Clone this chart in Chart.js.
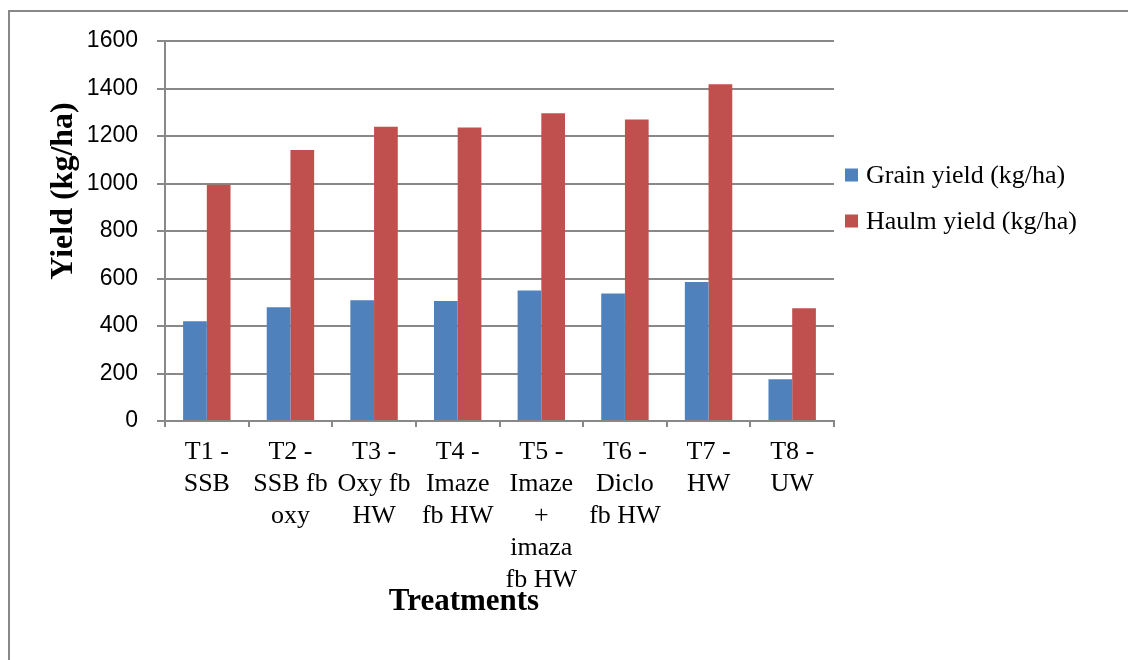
<!DOCTYPE html>
<html>
<head>
<meta charset="utf-8">
<title>Yield by treatment</title>
<script src="https://cdn.jsdelivr.net/npm/chart.js"></script>
<style>
  html, body { margin: 0; padding: 0; background: #ffffff; }
  #wrap { width: 1128px; height: 660px; }
</style>
</head>
<body>
<div id="wrap"><canvas id="yieldChart" width="1128" height="660"></canvas></div>
<script>
// Treatment labels, one entry per line of the wrapped axis label
const treatments = [
  ["T1 -", "SSB"],
  ["T2 -", "SSB fb", "oxy"],
  ["T3 -", "Oxy fb", "HW"],
  ["T4 -", "Imaze", "fb HW"],
  ["T5 -", "Imaze", "+", "imaza", "fb HW"],
  ["T6 -", "Diclo", "fb HW"],
  ["T7 -", "HW"],
  ["T8 -", "UW"]
];

// Yields in kg/ha
const grainYield = [420, 479, 508, 505, 550, 537, 585, 176];
const haulmYield = [995, 1141, 1239, 1236, 1296, 1269, 1418, 475];

const seriesNames = ["Grain yield (kg/ha)", "Haulm yield (kg/ha)"];
const seriesColors = ["#4F81BD", "#C0504D"];

// Value axis
const yMin = 0;
const yMax = 1600;
const yStep = 200;

const yTitle = "Yield (kg/ha)";
const xTitle = "Treatments";

const axisGray = "#888888";
const serif = "'Liberation Serif', 'Times New Roman', serif";
const sans = "'Liberation Sans', Arial, sans-serif";

// Chart frame, axis titles and the legend block on the right
const decorations = {
  id: 'decorations',
  beforeDraw(chart) {
    const ctx = chart.ctx;
    ctx.save();
    ctx.fillStyle = '#ffffff';
    ctx.fillRect(0, 0, chart.width, chart.height);
    ctx.restore();
  },
  afterDraw(chart) {
    const ctx = chart.ctx;
    const area = chart.chartArea;
    ctx.save();

    // outer frame (left and top edges)
    ctx.strokeStyle = axisGray;
    ctx.lineWidth = 2;
    ctx.beginPath();
    ctx.moveTo(9, chart.height);
    ctx.lineTo(9, 11);
    ctx.lineTo(chart.width, 11);
    ctx.stroke();

    // value axis title
    ctx.fillStyle = '#000000';
    ctx.font = "bold 32px " + serif;
    ctx.textAlign = 'center';
    ctx.textBaseline = 'middle';
    ctx.save();
    ctx.translate(64, 191);
    ctx.rotate(-Math.PI / 2);
    ctx.fillText(yTitle, 0, 0);
    ctx.restore();

    // category axis title
    ctx.font = "bold 31px " + serif;
    ctx.fillText(xTitle, 464, 602);

    // legend
    ctx.font = "26px " + serif;
    ctx.textAlign = 'left';
    const legendX = area.right + 11;
    const rows = [175, 221];
    chart.data.datasets.forEach((ds, i) => {
      const cy = rows[i];
      ctx.fillStyle = ds.backgroundColor;
      ctx.fillRect(legendX, cy - 6.5, 13, 13);
      ctx.fillStyle = '#000000';
      ctx.fillText(ds.label, legendX + 21, cy + 1);
    });

    ctx.restore();
  }
};

const chart = new Chart(document.getElementById('yieldChart'), {
  type: 'bar',
  data: {
    labels: treatments,
    datasets: [
      {
        label: seriesNames[0],
        data: grainYield,
        backgroundColor: seriesColors[0],
        borderWidth: 0,
        categoryPercentage: 0.567,
        barPercentage: 1.0
      },
      {
        label: seriesNames[1],
        data: haulmYield,
        backgroundColor: seriesColors[1],
        borderWidth: 0,
        categoryPercentage: 0.567,
        barPercentage: 1.0
      }
    ]
  },
  options: {
    responsive: false,
    animation: false,
    devicePixelRatio: 1,
    layout: {
      padding: { left: 0, top: 41, right: 294, bottom: 0 }
    },
    plugins: {
      legend: { display: false },
      tooltip: { enabled: false },
      title: { display: false }
    },
    scales: {
      x: {
        offset: true,
        grid: {
          offset: true,
          drawOnChartArea: false,
          drawTicks: true,
          tickLength: 6,
          color: axisGray,
          lineWidth: 2
        },
        border: { color: axisGray, width: 2 },
        ticks: {
          autoSkip: false,
          maxRotation: 0,
          minRotation: 0,
          padding: 9,
          color: '#000000',
          font: { family: serif, size: 26, lineHeight: 1.23 }
        },
        afterFit(scale) { scale.height = 239; }
      },
      y: {
        min: yMin,
        max: yMax,
        grid: {
          drawOnChartArea: true,
          drawTicks: true,
          tickLength: 8,
          color: axisGray,
          lineWidth: 2
        },
        border: { color: axisGray, width: 2 },
        ticks: {
          stepSize: yStep,
          padding: 19,
          color: '#000000',
          font: { family: sans, size: 23 },
          callback: (value) => String(value)
        },
        afterFit(scale) { scale.width = 165; }
      }
    }
  },
  plugins: [decorations]
});
</script>
</body>
</html>
